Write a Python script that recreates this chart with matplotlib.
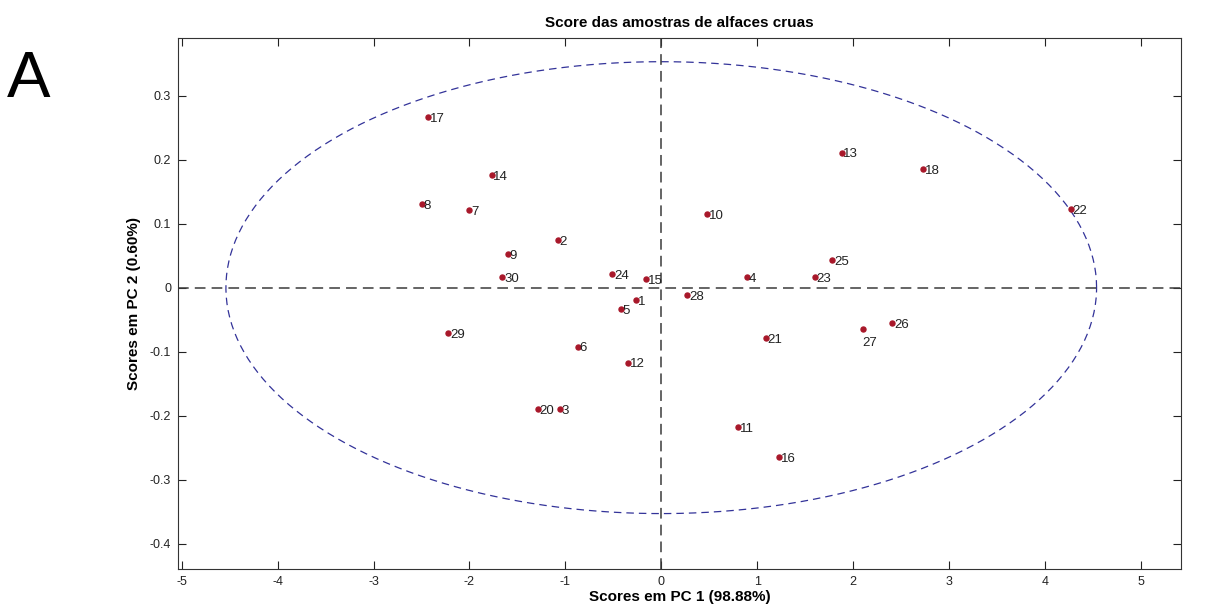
import numpy as np
import matplotlib.pyplot as plt

plt.rcParams['font.family'] = ['Liberation Sans', 'DejaVu Sans']
plt.rcParams['axes.unicode_minus'] = False

# sample ids and their scores on PC1 / PC2 (sample 19 is not shown)
samples = ['1', '2', '3', '4', '5', '6', '7', '8', '9', '10',
           '11', '12', '13', '14', '15', '16', '17', '18', '20',
           '21', '22', '23', '24', '25', '26', '27', '28', '29', '30']
pc1 = [-0.26, -1.08, -1.06, 0.89, -0.42, -0.87, -2.00, -2.50, -1.60, 0.48,
       0.80, -0.35, 1.88, -1.77, -0.16, 1.23, -2.43, 2.73, -1.29,
       1.09, 4.27, 1.60, -0.51, 1.78, 2.41, 2.10, 0.27, -2.22, -1.66]
pc2 = [-0.020, 0.074, -0.189, 0.017, -0.033, -0.092, 0.121, 0.131, 0.052, 0.115,
       -0.218, -0.117, 0.211, 0.176, 0.013, -0.265, 0.267, 0.185, -0.190,
       -0.079, 0.123, 0.016, 0.021, 0.043, -0.056, -0.065, -0.012, -0.071, 0.016]

# 95% confidence ellipse semi-axes
ell_a = 4.54
ell_b = 0.353

fig = plt.figure(figsize=(12.18, 6.08), dpi=100)
ax = fig.add_axes([0.1461, 0.0637, 0.8235, 0.8738])

t = np.linspace(0, 2 * np.pi, 400)
ax.plot(ell_a * np.cos(t), ell_b * np.sin(t), '--', color='#333399', lw=0.9, dashes=(6, 4))
ax.axhline(0, color='#3a3a3a', ls='--', lw=1.1, dashes=(7, 4))
ax.axvline(0, color='#3a3a3a', ls='--', lw=1.1, dashes=(7, 4))

for s, x, y in zip(samples, pc1, pc2):
    ax.plot(x, y, 'o', color='#a8182a', ms=3.6, mec='#a8182a')
    if s == '27':
        ax.text(x, y - 0.012, s, fontsize=9.5, ha='left', va='top', color='#222222')
    else:
        ax.text(x + 0.02, y - 0.003, s, fontsize=9.5, ha='left', va='center', color='#222222')

ax.set_xlim(-5.04, 5.42)
ax.set_ylim(-0.44, 0.39)
ax.set_xticks(np.arange(-5, 6, 1))
ax.set_yticks([-0.4, -0.3, -0.2, -0.1, 0, 0.1, 0.2, 0.3])
ax.set_yticklabels(['-0.4', '-0.3', '-0.2', '-0.1', '0', '0.1', '0.2', '0.3'])
ax.tick_params(direction='in', top=True, right=True, labelsize=9, length=6,
               colors='#222222', pad=5)
for sp in ax.spines.values():
    sp.set_color('#333333')

ax.set_xlabel('Scores em PC 1 (98.88%)', fontsize=11, fontweight='bold', labelpad=1)
ax.set_ylabel('Scores em PC 2 (0.60%)', fontsize=11, fontweight='bold', labelpad=6)
ax.set_title('Score das amostras de alfaces cruas', fontsize=11, fontweight='bold', pad=8)

fig.text(0.006, 0.840, 'A', fontsize=47, color='black', va='baseline')

fig.savefig('out.png', dpi=100)
